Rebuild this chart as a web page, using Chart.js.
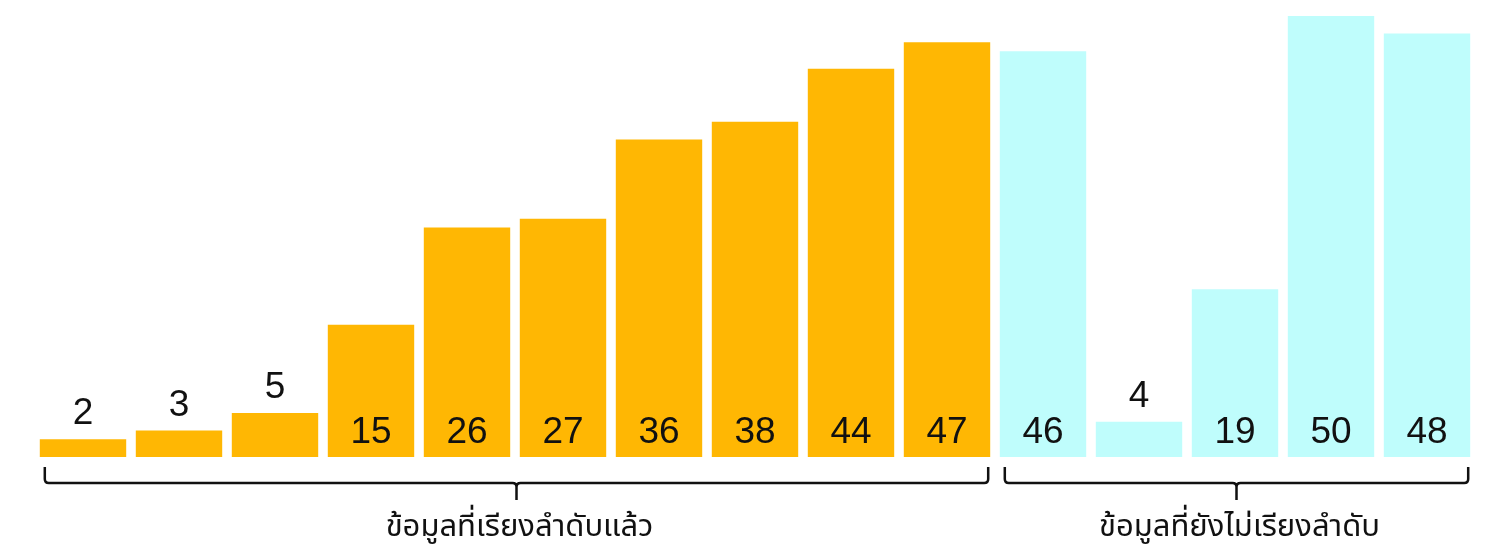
<!DOCTYPE html>
<html>
<head>
<meta charset="utf-8">
<script src="https://cdn.jsdelivr.net/npm/chart.js@4"></script>
<style>
  html, body { margin: 0; padding: 0; background: #fff; }
  canvas { display: block; }
</style>
</head>
<body>
<canvas id="chart" width="1505" height="560"></canvas>
<script>
//  DATA

const categories = ['1', '2', '3', '4', '5', '6', '7', '8', '9', '10', '11', '12', '13', '14', '15'];
const values     = [2, 3, 5, 15, 26, 27, 36, 38, 44, 47, 46, 4, 19, 50, 48];
const groupOf    = [0, 0, 0, 0, 0, 0, 0, 0, 0, 0, 1, 1, 1, 1, 1];
const groupNames = ['ข้อมูลที่เรียงลำดับแล้ว', 'ข้อมูลที่ยังไม่เรียงลำดับ'];
const groupColors = ['#FFB703', '#BFFDFC'];

const SMALL_LIMIT = 10;   // values below this get their label above the bar

//  VALUE LABELS (custom plugin)

const valueLabels = {
  id: 'valueLabels',
  afterDatasetsDraw(chart) {
    const { ctx } = chart;
    const meta = chart.getDatasetMeta(0);
    const base = chart.scales.y.getPixelForValue(0);
    ctx.save();
    ctx.font = '37px "Liberation Sans", Arial, sans-serif';
    ctx.fillStyle = '#111';
    ctx.textAlign = 'center';
    ctx.textBaseline = 'alphabetic';
    meta.data.forEach((bar, i) => {
      const v = values[i];
      const y = v < SMALL_LIMIT ? bar.y - 15 : base - 14;
      ctx.fillText(String(v), bar.x, y);
    });
    ctx.restore();
  },
};

//  GROUP BRACES (custom plugin)

const groupBraces = {
  id: 'groupBraces',
  afterDraw(chart) {
    const { ctx } = chart;
    const meta = chart.getDatasetMeta(0);
    const base = chart.scales.y.getPixelForValue(0);

    groupNames.forEach((name, g) => {
      const idx = groupOf.map((x, i) => (x === g ? i : -1)).filter(i => i >= 0);
      const first = meta.data[idx[0]];
      const last  = meta.data[idx[idx.length - 1]];
      const x0 = first.x - first.width / 2 + 5;
      const x1 = last.x + last.width / 2 - 2;
      const cx = (x0 + x1) / 2;
      const top = base + 10, mid = base + 26, tip = base + 43;
      const r = 4;

      ctx.save();
      ctx.strokeStyle = '#111';
      ctx.lineWidth = 2.5;
      ctx.lineJoin = 'round';
      ctx.beginPath();
      ctx.moveTo(x0, top);
      ctx.lineTo(x0, mid - r);
      ctx.quadraticCurveTo(x0, mid, x0 + r, mid);
      ctx.lineTo(cx - r, mid);
      ctx.quadraticCurveTo(cx, mid, cx, mid + r);
      ctx.lineTo(cx, tip);
      ctx.moveTo(cx, mid + r);
      ctx.quadraticCurveTo(cx, mid, cx + r, mid);
      ctx.lineTo(x1 - r, mid);
      ctx.quadraticCurveTo(x1, mid, x1, mid - r);
      ctx.lineTo(x1, top);
      ctx.stroke();

      ctx.font = '31px "Noto Sans Thai", "Noto Sans", sans-serif';
      ctx.fillStyle = '#111';
      ctx.textAlign = 'center';
      ctx.textBaseline = 'alphabetic';
      ctx.fillText(name, cx + 3, base + 79);
      ctx.restore();
    });
  },
};

//  CHART

new Chart(document.getElementById('chart'), {
  type: 'bar',
  data: {
    labels: categories,
    datasets: [{
      data: values,
      backgroundColor: groupOf.map(g => groupColors[g]),
      borderWidth: 0,
      barPercentage: 0.9,
      categoryPercentage: 1,
    }],
  },
  options: {
    responsive: false,
    animation: false,
    devicePixelRatio: 1,
    layout: { padding: { left: 35, right: 30, top: 0, bottom: 103 } },
    plugins: {
      legend:  { display: false },
      tooltip: { enabled: false },
    },
    scales: {
      x: { display: false },
      y: { display: false, min: 0, max: 51.8 },
    },
  },
  plugins: [valueLabels, groupBraces],
});
</script>
</body>
</html>
